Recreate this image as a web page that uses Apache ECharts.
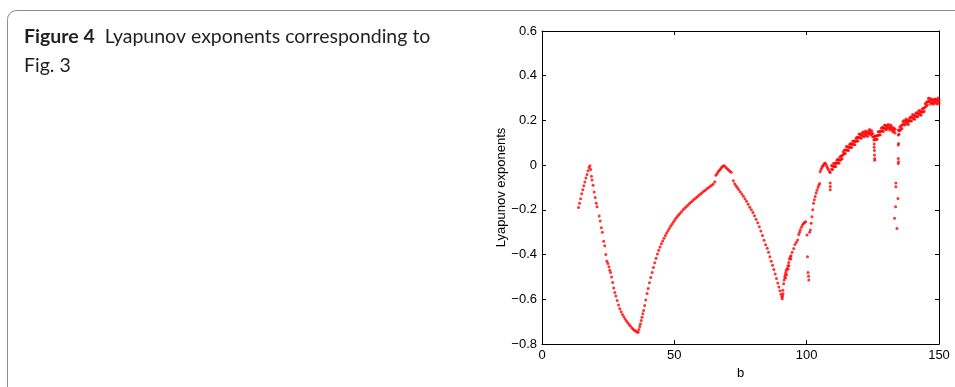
<!DOCTYPE html>
<html>
<head>
<meta charset="utf-8">
<title>Figure 4</title>
<script src="https://cdn.jsdelivr.net/npm/echarts@6/dist/echarts.min.js"></script>
<style>
  html, body { margin: 0; padding: 0; background: #fff; }
  #chart { width: 955px; height: 387px; }
</style>
</head>
<body>
<div id="chart"></div>
<script>
// axis ticks
var xTicks = [0, 50, 100, 150];
var yTicks = [-0.8, -0.6, -0.4, -0.2, 0, 0.2, 0.4, 0.6];

// [b, exponent], branch by branch
var leftPeak = [
  [13.8,-0.190],[14.2,-0.170],[14.6,-0.150],[15.0,-0.128],[15.4,-0.110],[15.8,-0.092],
  [16.2,-0.075],[16.6,-0.058],[17.0,-0.042],[17.4,-0.025],[17.8,-0.010],[18.1,-0.003],
  [18.4,-0.020],[18.7,-0.050],[18.9,-0.067],[19.3,-0.090],[19.7,-0.120],[20.1,-0.145],
  [20.5,-0.170],[20.8,-0.186]
];
var firstValley = [
  [21.6,-0.228],[22.0,-0.250],[22.4,-0.280],[22.8,-0.300],[23.3,-0.340],[23.7,-0.360],
  [24.1,-0.400],[24.5,-0.430],[24.9,-0.440],[25.3,-0.455],[25.6,-0.470],[25.9,-0.480],
  [26.3,-0.500],[26.7,-0.525],[27.1,-0.550],[27.5,-0.570],[27.9,-0.585],[28.4,-0.605],
  [28.9,-0.626],[29.4,-0.642],[29.9,-0.656],[30.4,-0.668],[30.9,-0.678],[31.4,-0.688],
  [31.9,-0.697],[32.4,-0.705],[32.9,-0.713],[33.4,-0.720],[33.9,-0.727],[34.4,-0.733],
  [34.9,-0.738],[35.4,-0.742],[35.9,-0.746],[36.3,-0.748],
  [36.6,-0.735],[36.9,-0.722],[37.2,-0.710],[37.5,-0.695],[37.8,-0.680],[38.1,-0.665],
  [38.4,-0.650],[38.8,-0.628],[39.2,-0.603],[39.7,-0.574],[40.1,-0.552],[40.6,-0.526],
  [41.1,-0.502],[41.6,-0.480],[42.1,-0.458],[42.6,-0.437],[43.1,-0.417],[43.6,-0.398],
  [44.1,-0.381],[44.6,-0.366],[45.1,-0.352],[45.6,-0.339],[46.1,-0.327],[46.6,-0.315],
  [47.1,-0.304],[47.6,-0.293],[48.1,-0.283],[48.6,-0.273],[49.1,-0.264],[49.6,-0.255],
  [50.1,-0.246],[50.6,-0.238],[51.1,-0.230],[51.6,-0.223],[52.1,-0.216],[52.7,-0.208],
  [53.3,-0.200],[53.9,-0.193],[54.5,-0.186],[55.1,-0.179],[55.7,-0.172],[56.3,-0.166],
  [56.9,-0.159],[57.5,-0.153],[58.1,-0.147],[58.7,-0.141],[59.3,-0.135],[59.9,-0.129],
  [60.5,-0.123],[61.1,-0.117],[61.7,-0.112],[62.3,-0.106],[62.9,-0.101],[63.5,-0.095],
  [64.1,-0.090],[64.7,-0.084],[65.3,-0.074]
];
var middlePeak = [
  [65.7,-0.045],[66.1,-0.038],[66.5,-0.031],[66.9,-0.025],[67.3,-0.019],[67.7,-0.013],
  [68.1,-0.007],[68.6,-0.003],[69.0,-0.004],[69.5,-0.010],[70.0,-0.016],[70.5,-0.022],
  [71.0,-0.027],[71.5,-0.032]
];
var secondValley = [
  [72.3,-0.070],[72.8,-0.083],[73.3,-0.092],[73.8,-0.100],[74.3,-0.109],[74.9,-0.119],
  [75.5,-0.129],[76.1,-0.139],[76.7,-0.150],[77.3,-0.162],[77.9,-0.175],[78.5,-0.188],
  [79.1,-0.200],[79.7,-0.212],[80.3,-0.226],[80.9,-0.242],[81.5,-0.258],[82.1,-0.276],
  [82.7,-0.295],[83.3,-0.315],[83.9,-0.336],[84.5,-0.356],[85.1,-0.372],[85.6,-0.390],
  [86.1,-0.410],[86.6,-0.430],[87.1,-0.448],[87.6,-0.467],[88.1,-0.487],[88.6,-0.507],
  [89.1,-0.527],[89.5,-0.545],[89.9,-0.562],[90.3,-0.578],[90.6,-0.590],[90.8,-0.598],
  [90.9,-0.585],[91.1,-0.575],[91.0,-0.560],
  [91.3,-0.530],[91.5,-0.514],[91.7,-0.500],[91.9,-0.490],[92.1,-0.480],[92.3,-0.470],
  [92.6,-0.462],[92.9,-0.450],[93.2,-0.435],[93.5,-0.420],[93.8,-0.410],[94.1,-0.405],
  [94.5,-0.390],[95.1,-0.373],[95.6,-0.355],[96.1,-0.345],[96.6,-0.335],[97.0,-0.310],
  [97.3,-0.300],[97.6,-0.290],[98.0,-0.278],[98.4,-0.268],[98.8,-0.261],[99.2,-0.256],
  [99.6,-0.253],[92.0,-0.505],[92.4,-0.490],[93.0,-0.465],[93.3,-0.450],[94.0,-0.420],
  [101.1,-0.300],[101.4,-0.290],[101.7,-0.260],[102.0,-0.231],[102.3,-0.200],[102.6,-0.171],
  [102.9,-0.155],[103.2,-0.140],[103.6,-0.125],[103.9,-0.112],[104.3,-0.100],[104.6,-0.090],
  [104.9,-0.082]
];
var thirdPeak = [
  [105.1,-0.030],[105.4,-0.020],[105.7,-0.012],[106.0,-0.005],[106.3,0.000],[106.6,0.006],
  [107.0,0.010],[107.3,0.004],[107.6,-0.005],[107.9,-0.013],[108.2,-0.020],[108.6,-0.028],
  [108.9,-0.033]
];
var dropouts = [
  [100.1,-0.313],[100.3,-0.410],[100.5,-0.480],[100.7,-0.497],[100.8,-0.514],
  [108.9,-0.080],[108.9,-0.095],[108.9,-0.110],
  [125.5,0.095],[125.5,0.080],[125.6,0.065],[125.6,0.045],[125.7,0.030],[125.7,0.022],
  [134.7,0.157],[134.6,0.135],[134.7,0.097],[134.6,0.090],[134.6,0.030],[134.7,0.015],
  [134.6,0.007],[133.7,-0.080],[133.7,-0.097],[134.5,-0.149],[133.6,-0.186],[133.2,-0.238],
  [134.1,-0.283]
];
var chaoticBand = [
  [109.4,-0.002],[109.4,-0.018],[109.8,-0.004],[109.8,-0.020],[110.2,0.009],[110.2,-0.006],
  [110.6,-0.006],[110.6,0.009],[111.0,0.009],[111.0,-0.006],[111.4,0.022],[111.4,0.009],
  [111.8,0.027],[111.8,0.011],[112.2,0.024],[112.2,0.008],[112.6,0.037],[112.6,0.022],
  [113.0,0.025],[113.0,0.040],[113.4,0.044],[113.4,0.029],[113.8,0.060],[113.8,0.047],
  [114.2,0.068],[114.2,0.052],[114.6,0.068],[114.6,0.052],[115.0,0.083],[115.0,0.068],
  [115.4,0.067],[115.4,0.082],[115.8,0.080],[115.8,0.065],[116.2,0.092],[116.2,0.079],
  [116.6,0.097],[116.6,0.081],[117.0,0.095],[117.0,0.079],[117.4,0.108],[117.4,0.093],
  [117.8,0.092],[117.8,0.107],[118.2,0.106],[118.2,0.091],[118.6,0.119],[118.6,0.106],
  [119.0,0.125],[119.0,0.109],[119.4,0.124],[119.4,0.108],[119.8,0.139],[119.8,0.124],
  [120.2,0.123],[120.2,0.138],[120.6,0.135],[120.6,0.120],[121.0,0.145],[121.0,0.132],
  [121.4,0.148],[121.4,0.132],[121.8,0.143],[121.8,0.127],[122.2,0.153],[122.2,0.138],
  [122.6,0.133],[122.6,0.148],[123.0,0.144],[123.0,0.129],[123.4,0.155],[123.4,0.142],
  [123.8,0.159],[123.8,0.143],[124.2,0.151],[124.2,0.135],[124.6,0.154],[124.6,0.139],
  [125.0,0.126],[125.0,0.141],[125.4,0.128],[125.4,0.113],[125.8,0.129],[125.8,0.116],
  [126.2,0.131],[126.2,0.115],[126.6,0.132],[126.6,0.116],[127.0,0.149],[127.0,0.134],
  [127.4,0.135],[127.4,0.150],[127.8,0.151],[127.8,0.136],[128.2,0.165],[128.2,0.152],
  [128.6,0.170],[128.6,0.154],[129.0,0.167],[129.0,0.151],[129.4,0.179],[129.4,0.164],
  [129.8,0.162],[129.8,0.177],[130.2,0.173],[130.2,0.158],[130.6,0.181],[130.6,0.168],
  [131.0,0.181],[131.0,0.165],[131.4,0.173],[131.4,0.157],[131.8,0.180],[131.8,0.165],
  [132.2,0.157],[132.2,0.172],[132.6,0.163],[132.6,0.148],[133.0,0.166],[133.0,0.153],
  [133.4,0.160],[133.4,0.144],[134.9,0.154],[134.9,0.138],[135.2,0.171],[135.2,0.156],
  [135.6,0.160],[135.6,0.175],[136.0,0.179],[136.0,0.164],[136.4,0.195],[136.4,0.182],
  [136.8,0.200],[136.8,0.184],[137.2,0.196],[137.2,0.180],[137.6,0.206],[137.6,0.191],
  [138.0,0.186],[138.0,0.201],[138.4,0.197],[138.4,0.182],[138.8,0.209],[138.8,0.196],
  [139.2,0.215],[139.2,0.199],[139.6,0.214],[139.6,0.198],[140.0,0.226],[140.0,0.211],
  [140.4,0.208],[140.4,0.223],[140.8,0.220],[140.8,0.205],[141.2,0.231],[141.2,0.218],
  [141.6,0.235],[141.6,0.219],[142.0,0.232],[142.0,0.216],[142.4,0.244],[142.4,0.229],
  [142.8,0.226],[142.8,0.241],[143.2,0.238],[143.2,0.223],[143.6,0.250],[143.6,0.237],
  [144.0,0.255],[144.0,0.239],[144.4,0.256],[144.4,0.240],[144.8,0.275],[144.8,0.260],
  [145.2,0.265],[145.2,0.280],[145.6,0.284],[145.6,0.269],[146.0,0.299],[146.0,0.286],
  [146.4,0.299],[146.4,0.283],[146.8,0.290],[146.8,0.274],[147.2,0.296],[147.2,0.281],
  [147.6,0.277],[147.6,0.292],[148.0,0.289],[148.0,0.274],[148.4,0.296],[148.4,0.283],
  [148.8,0.295],[148.8,0.279],[149.2,0.290],[149.2,0.274],[149.6,0.300],[149.6,0.285],
  [150.0,0.276],[150.0,0.291]
];

var allPoints = [].concat(leftPeak, firstValley, middlePeak, secondValley, thirdPeak, dropouts, chaoticBand);

var chart = echarts.init(document.getElementById('chart'));

var axisFont = { fontFamily: 'Liberation Sans, Arial, sans-serif', fontSize: 13, color: '#000' };
var frameLine = { show: true, onZero: false, lineStyle: { color: '#000', width: 1 } };
var frameTick = { show: true, inside: true, length: 4, lineStyle: { color: '#000' } };

function yLabel(v) {
  if (Math.abs(v) < 1e-9) return '0';
  return v.toFixed(1).replace('-', '\u2212');
}

var option = {
  animation: false,
  backgroundColor: '#fff',
  title: {
    left: 24,
    top: 22,
    padding: 0,
    text: '{b|Figure 4}  Lyapunov exponents corresponding to\nFig. 3',
    textStyle: {
      fontFamily: 'Lato, sans-serif',
      fontSize: 19.5,
      fontWeight: 'normal',
      color: '#231f20',
      lineHeight: 29,
      rich: {
        b: { fontFamily: 'Lato, sans-serif', fontSize: 19.5, fontWeight: 'bold', color: '#231f20', lineHeight: 29 }
      }
    }
  },
  graphic: [{
    type: 'rect',
    silent: true,
    shape: { x: 7.5, y: 10.5, width: 1000, height: 420, r: 9 },
    style: { fill: null, stroke: '#8c8c8c', lineWidth: 1 }
  }],
  grid: { left: 542, right: 16, top: 31, bottom: 43 },
  xAxis: [{
    type: 'value', min: xTicks[0], max: xTicks[xTicks.length - 1], interval: 50,
    position: 'bottom',
    name: 'b', nameLocation: 'middle', nameGap: 18,
    nameTextStyle: axisFont,
    axisLine: frameLine,
    axisTick: frameTick,
    axisLabel: Object.assign({ margin: 5 }, axisFont),
    splitLine: { show: false }
  }, {
    type: 'value', min: xTicks[0], max: xTicks[xTicks.length - 1], interval: 50,
    position: 'top',
    axisLine: frameLine,
    axisTick: frameTick,
    axisLabel: { show: false },
    splitLine: { show: false }
  }],
  yAxis: [{
    type: 'value', min: yTicks[0], max: yTicks[yTicks.length - 1], interval: 0.2,
    position: 'left',
    name: 'Lyapunov exponents', nameLocation: 'middle', nameGap: 33,
    nameTextStyle: axisFont,
    axisLine: frameLine,
    axisTick: frameTick,
    axisLabel: Object.assign({ margin: 5, formatter: yLabel }, axisFont),
    splitLine: { show: false }
  }, {
    type: 'value', min: yTicks[0], max: yTicks[yTicks.length - 1], interval: 0.2,
    position: 'right',
    axisLine: frameLine,
    axisTick: frameTick,
    axisLabel: { show: false },
    splitLine: { show: false }
  }],
  series: [{
    type: 'scatter',
    xAxisIndex: 0,
    yAxisIndex: 0,
    data: allPoints,
    symbol: 'circle',
    symbolSize: 3,
    itemStyle: { color: '#ff0000' }
  }]
};

chart.setOption(option);
</script>
</body>
</html>
